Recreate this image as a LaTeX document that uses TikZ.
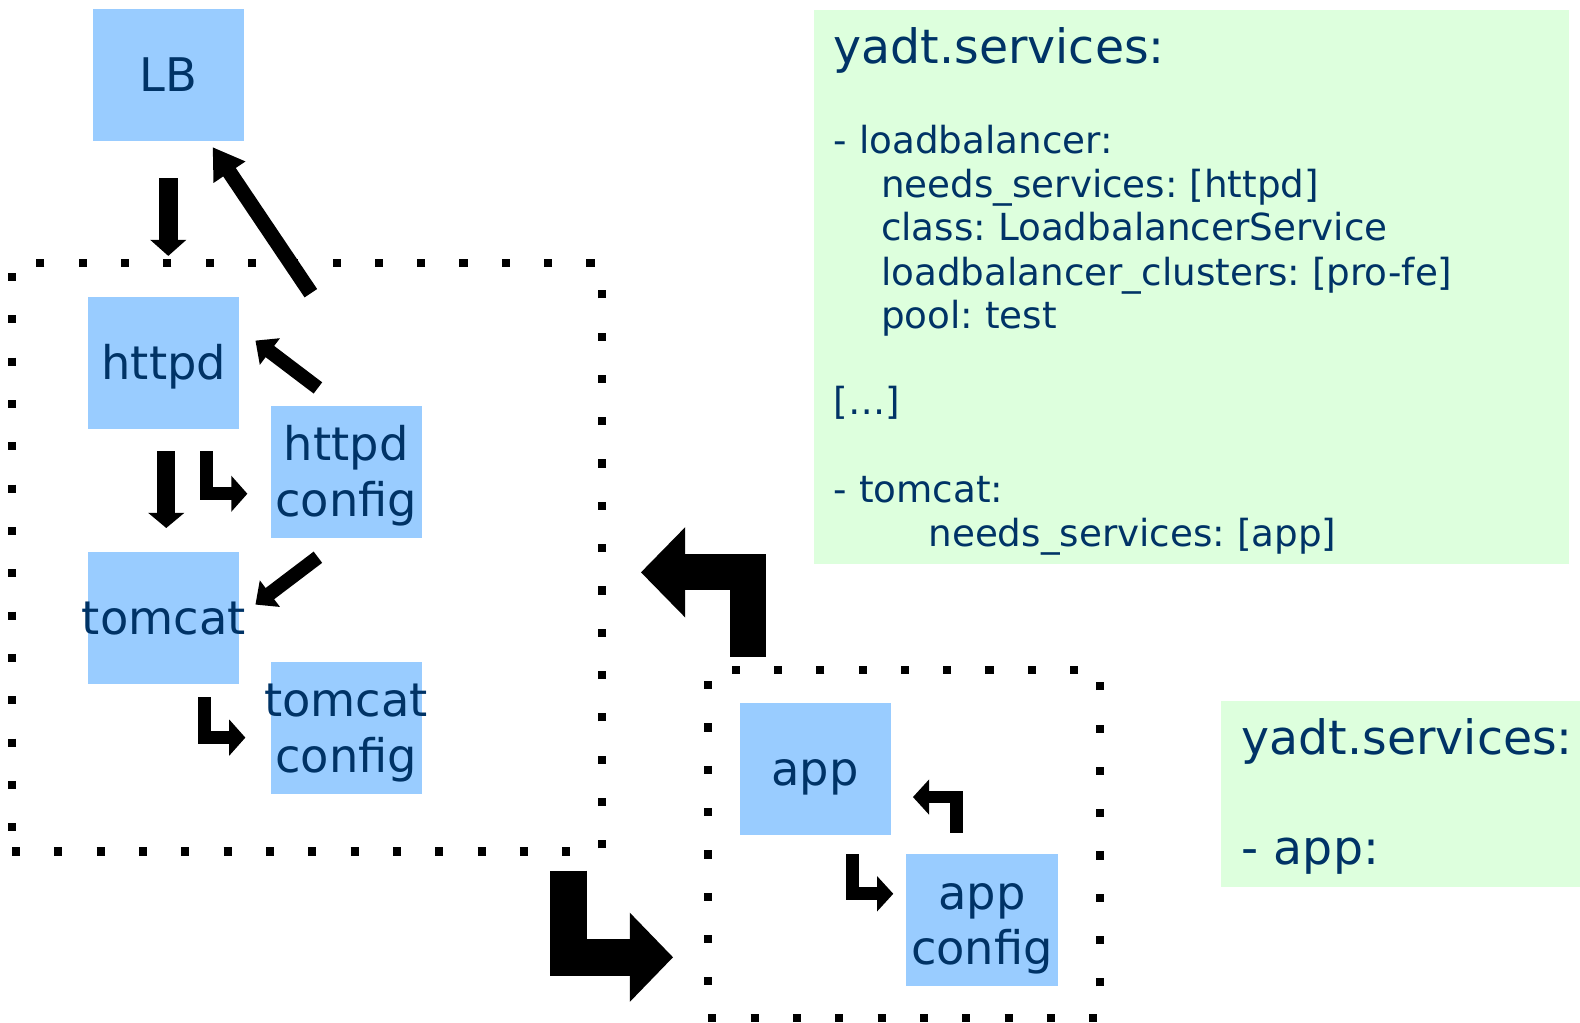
\documentclass[tikz,border=0pt]{standalone}
\usepackage{fontspec}
\setmainfont{DejaVu Sans}
\usetikzlibrary{arrows.meta,calc}
\definecolor{svcblue}{HTML}{99CCFF}
\definecolor{notegreen}{HTML}{DDFFDD}
\definecolor{navy}{HTML}{003366}
\frenchspacing
\begin{document}
\frenchspacing
\begin{tikzpicture}[x=0.5pt,y=-0.5pt,
  svc/.style={rectangle, fill=svcblue, draw=none, minimum width=75pt, minimum height=65.5pt, inner sep=0pt, outer sep=0pt},
  lbl/.style={anchor=base, inner sep=0pt, text=navy, font=\fontsize{23}{27.5}\selectfont},
  grp/.style={rectangle, draw=black, line width=4pt, dash pattern=on 4pt off 17pt, inner sep=0pt, outer sep=0pt},
  note/.style={rectangle, fill=notegreen, draw=none, inner sep=0pt, outer sep=0pt},
  headtxt/.style={anchor=base west, inner sep=0pt, text=navy, font=\fontsize{23.5}{28}\selectfont},
  bodytxt/.style={anchor=base west, inner sep=0pt, text=navy, font=\fontsize{18.5}{22}\selectfont},
  barrow/.style n args={3}{draw=black, line width=#1, line join=miter, line cap=butt, -{Triangle[width=#2,length=#3]}},
]
\useasboundingbox (0,0) rectangle (1568,1015);

% green notes
\node[note, minimum width=374.5pt, minimum height=275pt] (spec) at (1182.5,285) {};
\node[note, minimum width=178pt, minimum height=92pt] (appspec) at (1390,788) {};

\node[headtxt] (s0) at (827,63) {yadt.services:};
\node[bodytxt] (s1) at (827,152) {- loadbalancer:};
\node[bodytxt] (s2) at (874,196) {needs\_services: [httpd]};
\node[bodytxt] (s3) at (874,239) {class: LoadbalancerService};
\node[bodytxt] (s4) at (874,283) {loadbalancer\_clusters: [pro-fe]};
\node[bodytxt] (s5) at (874,326) {pool: test};
\node[bodytxt] (s6) at (827,411) {[…]};
\node[bodytxt] (s7) at (827,499) {- tomcat:};
\node[bodytxt] (s8) at (921,542) {needs\_services: [app]};

\node[headtxt] (a0) at (1232,749) {yadt.services:};
\node[headtxt] (a1) at (1232,858) {- app:};

% dotted groups
\node[grp, minimum width=292.5pt, minimum height=292pt] (web) at (304.5,553) {};
\node[grp, minimum width=194.5pt, minimum height=172.5pt] (appgrp) at (897.5,837.5) {};

% service boxes
\node[svc] (LB) at (167,74.5) {};
\node[svc] (httpd) at (162.5,360.5) {};
\node[svc] (hcfg) at (343.5,468.5) {};
\node[svc] (tomcat) at (162.5,613.5) {};
\node[svc] (tcfg) at (343.5,722.5) {};
\node[svc] (app) at (809,763.5) {};
\node[svc] (acfg) at (974.5,913.5) {};

\node[lbl] (LBt) at ($(LB.center)+(0,16.5)$) {LB};
\node[lbl] (httpdt) at ($(httpd.center)+(0,16.5)$) {httpd};
\node[lbl] (hcfgt1) at ($(hcfg.center)+(0,-11)$) {httpd};
\node[lbl] (hcfgt2) at ($(hcfg.center)+(0,44)$) {config};
\node[lbl] (tomcatt) at ($(tomcat.center)+(0,16.5)$) {tomcat};
\node[lbl] (tcfgt1) at ($(tcfg.center)+(0,-11)$) {tomcat};
\node[lbl] (tcfgt2) at ($(tcfg.center)+(0,44)$) {config};
\node[lbl] (appt) at ($(app.center)+(0,16.5)$) {app};
\node[lbl] (acfgt1) at ($(acfg.center)+(0,-11)$) {app};
\node[lbl] (acfgt2) at ($(acfg.center)+(0,44)$) {config};

% arrows
\draw[barrow={9.5pt}{17.5pt}{8pt}] ($(LB.south)+(0,37)$) -- ($(web.north west)+(155,-7)$);
\draw[barrow={7.5pt}{18pt}{15pt}] ($(httpd.north east)+(71,-4)$) -- ($(LB.south east)+(-31,6)$);
\draw[barrow={7pt}{16pt}{9pt}] ($(hcfg.north west)+(47,-18)$) -- ($(httpd.east)+(16,-22.5)$);
\draw[barrow={9pt}{17.5pt}{7.5pt}] ($(httpd.south)+(2.5,22)$) -- ($(tomcat.north)+(2.5,-24)$);
\draw[barrow={6.5pt}{17.5pt}{8pt}] ($(httpd.south)+(42.5,22)$) |- ($(hcfg.west)+(-23,21.5)$);
\draw[barrow={7pt}{16pt}{9pt}] ($(hcfg.south west)+(47,19)$) -- ($(tomcat.east)+(16,-13.5)$);
\draw[barrow={6.5pt}{17.5pt}{8pt}] ($(tomcat.south)+(40.5,13)$) |- ($(tcfg.west)+(-25,9.5)$);
\draw[barrow={18pt}{43.5pt}{22pt}] ($(appgrp.north west)+(39,-13)$) |- ($(web.east)+(39,15)$);
\draw[barrow={18.5pt}{43pt}{21.5pt}] ($(web.south east)+(-33,19)$) |- ($(appgrp.west)+(-35,112.5)$);
\draw[barrow={6.25pt}{17pt}{8pt}] ($(acfg.north)+(-25.5,-21.5)$) |- ($(app.east)+(22,27.5)$);
\draw[barrow={6.25pt}{17pt}{8pt}] ($(app.south)+(37,19)$) |- ($(acfg.west)+(-13,-26.5)$);
\end{tikzpicture}
\end{document}
